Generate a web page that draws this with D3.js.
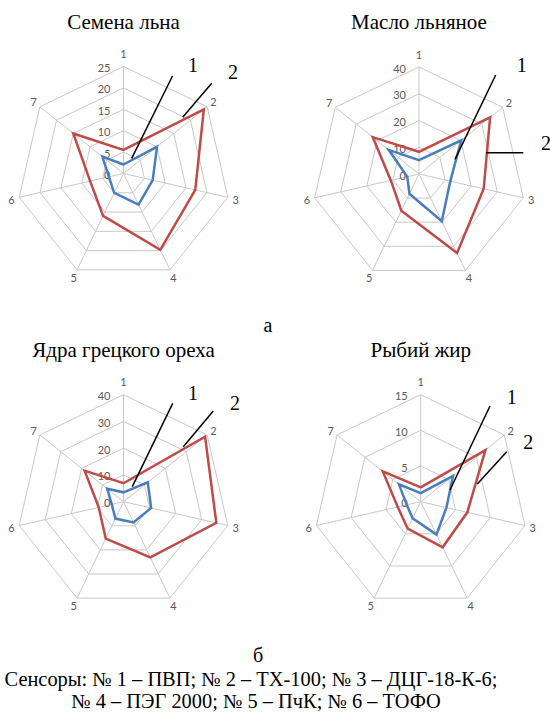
<!DOCTYPE html>
<html>
<head>
<meta charset="utf-8">
<script src="https://cdn.jsdelivr.net/npm/d3@7"></script>
<style>
html,body{margin:0;padding:0;background:#fff;}
svg{display:block;}
</style>
</head>
<body>
<svg id="chart" width="550" height="713"></svg>
<script>
// ---- data ----
const axisLabels = ["1","2","3","4","5","6","7"];
const titles = ["Семена льна","Масло льняное","Ядра грецкого ореха","Рыбий жир"];
const maxima = [25, 40, 40, 15];
const ticksSeeds = [0,5,10,15,20,25];
const ticksOil = [0,10,20,30,40];
const ticksWalnut = [0,10,20,30,40];
const ticksFish = [0,5,10,15];
const seedsS1 = [2.1,10,7,8.1,5,3.5,6.3];
const seedsS2 = [5.5,24,17.2,19.8,11,8,15];
const oilS1 = [5.2,20.2,12,19.6,8.2,4.5,14.5];
const oilS2 = [8.3,34,24.8,32.8,15.2,10.8,22.1];
const walnutS1 = [3.5,11.6,10.6,8.6,7,4.5,7.8];
const walnutS2 = [6.9,39,35.6,23.1,15.3,9.5,18.6];
const fishS1 = [1.2,5.8,3.7,5.1,2.6,2.0,3.9];
const fishS2 = [2,11.6,6.7,7.1,4.2,3.3,6.8];
const seriesNames = ["1","2"];
const subLabels = ["а","б"];
const captionLines = ["Сенсоры: № 1 – ПВП; № 2 – ТХ-100; № 3 – ДЦГ-18-К-6;","№ 4 – ПЭГ 2000; № 5 – ПчК; № 6 – ТОФО"];

// ---- layout ----
const svg = d3.select("#chart");
const R = 107;
const serif = "'Liberation Serif','Times New Roman',serif";
const sans = "Lato,'Liberation Sans',sans-serif";
const panels = [
  {cx:123.5, cy:173.5, ticks:ticksSeeds, s1:seedsS1, s2:seedsS2,
   ptr:[[49,-97.5,8.2,-15.2,69.5,-108.5],[88.2,-90.2,59.2,-56.2,109.5,-101.5]]},
  {cx:419, cy:174, ticks:ticksOil, s1:oilS1, s2:oilS2,
   ptr:[[76.7,-99,36,-14.7,102.7,-109],[67,-21.3,104.3,-21.3,127,-31]]},
  {cx:123.5, cy:501.7, ticks:ticksWalnut, s1:walnutS1, s2:walnutS2,
   ptr:[[49.2,-98.4,8.8,-15,69.5,-108.7],[89.8,-90.7,59.8,-55,111.5,-98.7]]},
  {cx:420.7, cy:501.7, ticks:ticksFish, s1:fishS1, s2:fishS2,
   ptr:[[69.3,-95.7,29.3,-11.7,91,-105],[86,-50,56.6,-17.7,107.6,-60]]}
];

const angle = d3.scalePoint().domain(axisLabels).range([0, 2*Math.PI*(axisLabels.length-1)/axisLabels.length]);

panels.forEach((p, i) => {
  const g = svg.append("g").attr("transform", `translate(${p.cx},${p.cy})`);
  const r = d3.scaleLinear().domain([0, maxima[i]]).range([0, R]);
  const pt = (a, v) => [r(v)*Math.sin(angle(a)), -r(v)*Math.cos(angle(a))];

  // grid rings
  p.ticks.filter(t => t > 0).forEach(t => {
    g.append("polygon")
      .attr("points", axisLabels.map(a => pt(a, t).join(",")).join(" "))
      .attr("fill", "none").attr("stroke", "#c8c8c8").attr("stroke-width", 1);
  });
  // spokes
  axisLabels.forEach(a => {
    const [x, y] = pt(a, maxima[i]);
    g.append("line").attr("x1",0).attr("y1",0).attr("x2",x).attr("y2",y)
      .attr("stroke", "#c8c8c8").attr("stroke-width", 1);
  });
  // tick labels
  p.ticks.forEach(t => {
    g.append("text").attr("x", -13).attr("y", -r(t) + 1)
      .attr("text-anchor", "end").attr("dominant-baseline", "central")
      .attr("font-family", sans).attr("font-size", 11).attr("fill", "#595959")
      .text(t);
  });
  // axis labels
  axisLabels.forEach((a, k) => {
    const rr = R + 8 + (k === 0 ? 5 : 0);
    const x = rr*Math.sin(angle(a)), y = -rr*Math.cos(angle(a));
    g.append("text").attr("x", x).attr("y", y)
      .attr("text-anchor", "middle").attr("dominant-baseline", "central")
      .attr("font-family", sans).attr("font-size", 11).attr("fill", "#595959")
      .text(a);
  });
  // series
  const line = d3.lineRadial()
    .angle((d, k) => angle(axisLabels[k]))
    .radius(d => r(d))
    .curve(d3.curveLinearClosed);
  [[p.s1, "#4a7ebb"], [p.s2, "#be4b48"]].forEach(([vals, col]) => {
    g.append("path").attr("d", line(vals))
      .attr("fill", "none").attr("stroke", col).attr("stroke-width", 2.5)
      .attr("stroke-linejoin", "miter");
  });
  // pointers
  p.ptr.forEach((q, k) => {
    g.append("line").attr("x1", q[0]).attr("y1", q[1]).attr("x2", q[2]).attr("y2", q[3])
      .attr("stroke", "#000").attr("stroke-width", 1.5);
    g.append("text").attr("x", q[4]).attr("y", q[5])
      .attr("text-anchor", "middle").attr("dominant-baseline", "central")
      .attr("font-family", serif).attr("font-size", 20).attr("fill", "#000")
      .text(seriesNames[k]);
  });
  // title
  svg.append("text").attr("x", p.cx).attr("y", p.cy - 145)
    .attr("text-anchor", "middle")
    .attr("font-family", serif).attr("font-size", 21).attr("fill", "#000")
    .text(titles[i]);
});

svg.append("text").attr("x", 268).attr("y", 332).attr("text-anchor", "middle")
  .attr("font-family", serif).attr("font-size", 20).text(subLabels[0]);
svg.append("text").attr("x", 258).attr("y", 662).attr("text-anchor", "middle")
  .attr("font-family", serif).attr("font-size", 20).text(subLabels[1]);
svg.append("text").attr("x", 251).attr("y", 686).attr("text-anchor", "middle")
  .attr("font-family", serif).attr("font-size", 20.4).text(captionLines[0]);
svg.append("text").attr("x", 256).attr("y", 708).attr("text-anchor", "middle")
  .attr("font-family", serif).attr("font-size", 20.4).text(captionLines[1]);
</script>
</body>
</html>
